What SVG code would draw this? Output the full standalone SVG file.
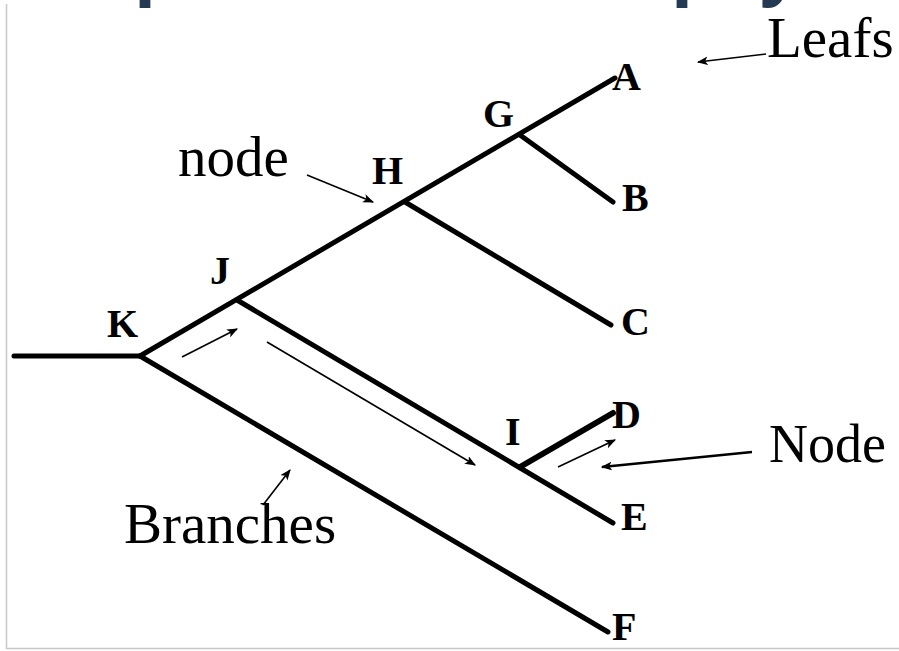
<svg xmlns="http://www.w3.org/2000/svg" width="899" height="651" viewBox="0 0 899 651">
<style>
.br{stroke:#000;stroke-width:5;stroke-linecap:round;fill:none}
.ar{stroke:#000;stroke-width:1.6;fill:none;marker-end:url(#ah)}
.ar2{stroke:#000;stroke-width:2.4;fill:none;marker-end:url(#ah)}
.lb{font-family:"Liberation Serif","Times New Roman",serif;font-weight:bold;font-size:40px;fill:#000}
.tx{font-family:"Liberation Serif","Times New Roman",serif;font-size:57px;fill:#000}
.ti{font-family:"Open Sans","Liberation Sans",sans-serif;font-weight:bold;font-size:72px;fill:#243a52}
</style>
<defs>
<marker id="ah" viewBox="0 0 10 8" refX="9" refY="4" markerWidth="11" markerHeight="9" markerUnits="userSpaceOnUse" orient="auto">
<path d="M0,0 L10,4 L0,8 L2.5,4 Z" fill="#000"/>
</marker>
</defs>
<rect width="899" height="651" fill="#fff"/>
<g id="title-fragment">
<text class="ti" x="134" y="-9">p</text>
<text class="ti" x="671" y="-9">p</text>
<text class="ti" x="760" y="-9">y</text>
</g>
<path d="M6.5 4 V648.5 H899" stroke="#c8c8c8" stroke-width="1.5" fill="none"/>
<g id="connectors">
<line class="br" x1="14" y1="356" x2="140" y2="356"/>
<line class="br" x1="140" y1="356" x2="615" y2="78"/>
<line class="br" x1="520" y1="135" x2="613" y2="202"/>
<line class="br" x1="405" y1="202" x2="611" y2="325"/>
<line class="br" x1="237" y1="300" x2="613" y2="523"/>
<line class="br" x1="520" y1="467" x2="613" y2="413" style="stroke-width:6"/>
<line class="br" x1="140" y1="356" x2="608" y2="632"/>
<line class="ar" x1="766" y1="54" x2="698" y2="62"/>
<line class="ar" x1="307" y1="175" x2="373" y2="202"/>
<line class="ar2" x1="752" y1="452" x2="602" y2="467"/>
<line class="ar" x1="263" y1="505" x2="290" y2="470"/>
<line class="ar" x1="182" y1="357" x2="237" y2="329"/>
<line class="ar" x1="267" y1="342" x2="475" y2="465"/>
<line class="ar" x1="558" y1="467" x2="615" y2="440"/>
</g>
<g id="node-A"><text class="lb" x="612" y="90">A</text></g>
<g id="node-B"><text class="lb" x="622" y="211">B</text></g>
<g id="node-C"><text class="lb" x="621" y="335">C</text></g>
<g id="node-D"><text class="lb" x="612" y="428">D</text></g>
<g id="node-E"><text class="lb" x="621" y="530">E</text></g>
<g id="node-F"><text class="lb" x="612" y="640">F</text></g>
<g id="node-G"><text class="lb" x="483" y="127">G</text></g>
<g id="node-H"><text class="lb" x="372" y="184">H</text></g>
<g id="node-I"><text class="lb" x="505" y="445">I</text></g>
<g id="node-J"><text class="lb" x="210" y="284">J</text></g>
<g id="node-K"><text class="lb" x="107" y="337">K</text></g>
<g id="label-leafs"><text class="tx" x="767" y="57">Leafs</text></g>
<g id="label-node"><text class="tx" x="178" y="176">node</text></g>
<g id="label-Node"><text class="tx" x="769" y="462" style="font-size:54px">Node</text></g>
<g id="label-branches"><text class="tx" x="124" y="543">Branches</text></g>
</svg>
